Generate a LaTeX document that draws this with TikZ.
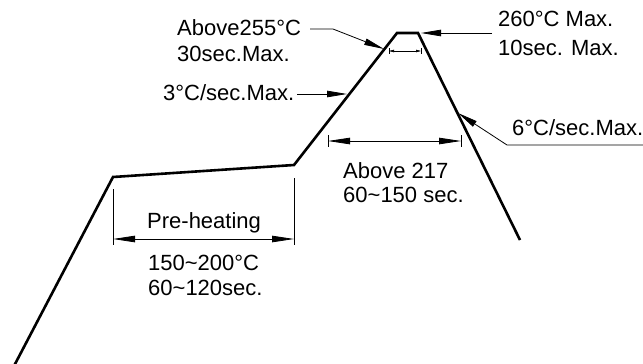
\documentclass[tikz,border=0pt]{standalone}
\usepackage{fontspec}
\setmainfont{Liberation Sans}
\usetikzlibrary{arrows.meta}
\begin{document}
\begin{tikzpicture}[x=1pt,y=-1pt,
  lbl/.style={inner sep=0pt, anchor=base west, font=\fontsize{22}{25}\selectfont},
  prof/.style={line width=2.6pt, line join=miter},
  lead/.style={line width=0.8pt, -{Triangle[length=20pt,width=6.5pt]}},
  dimline/.style={line width=0.8pt, {Triangle[length=22pt,width=6.5pt]}-{Triangle[length=22pt,width=6.5pt]}},
  smalldim/.style={line width=0.6pt, {Triangle[length=5pt,width=2.5pt]}-{Triangle[length=5pt,width=2.5pt]}},
  ext/.style={line width=0.8pt}]
\useasboundingbox (0,0) rectangle (643,364);
% profile
\coordinate (p0) at (14,366);
\coordinate (p1) at (113,177);
\coordinate (p2) at (294,165);
\coordinate (p3) at (397,33);
\coordinate (p4) at (418,33);
\coordinate (p5) at (520,240);
\draw[prof] (p0) -- (p1) -- (p2) -- (p3) -- (p4) -- (p5);
% pre-heating dimension
\coordinate (e1a) at (113,189); \coordinate (e1b) at (113,245);
\coordinate (e2a) at (294,178); \coordinate (e2b) at (294,245);
\draw[ext] (e1a) -- (e1b);
\draw[ext] (e2a) -- (e2b);
\coordinate (d1) at (113,239); \coordinate (d2) at (294,239);
\draw[dimline] (d1) -- (d2);
\node[lbl] (pre) at (147,228) {Pre-heating};
\node[lbl] (t1) at (148,270) {150\char`~200°C};
\node[lbl] (t2) at (148,295) {60\char`~120sec.};
% above 217 dimension
\coordinate (a1) at (328,141); \coordinate (a2) at (461,141);
\draw[ext] (328,135) -- (328,147);
\draw[ext] (461,135) -- (461,147);
\draw[dimline] (a1) -- (a2);
\node[lbl] (ab1) at (343,178) {Above 217};
\node[lbl] (ab2) at (343,202) {60\char`~150 sec.};
% peak dimension
\coordinate (k1) at (389,51); \coordinate (k2) at (421,51);
\draw[line width=0.6pt] (389,48) -- (389,54);
\draw[line width=0.6pt] (421,48) -- (421,54);
\draw[smalldim] (k1) -- (k2);
% Above255 label
\node[lbl] (l255) at (177,35) {Above255°C};
\node[lbl] (l30) at (177,61) {30sec.Max.};
\coordinate (s255) at (310,29);
\coordinate (b255) at (333,29);
\coordinate (tip255) at (384,49);
\draw[lead] (s255) -- (b255) -- (tip255);
% 3C/sec label
\node[lbl] (l3) at (163,100) {3°C/sec.Max.};
\coordinate (s3) at (297,94);
\coordinate (tip3) at (347,94);
\draw[lead] (s3) -- (tip3);
% 260 label
\node[lbl] (l260) at (498,27) {260°C Max.};
\node[lbl] (l10) at (498,55) {10sec. Max.};
\coordinate (s260) at (492,33);
\coordinate (tip260) at (421,33);
\draw[lead] (s260) -- (tip260);
% 6C/sec label
\node[lbl] (l6) at (512,135) {6°C/sec.Max.};
\coordinate (u1) at (643,145);
\coordinate (u0) at (507,145);
\coordinate (tip6) at (458,113);
\draw[lead] (u1) -- (u0) -- (tip6);
\end{tikzpicture}
\end{document}
